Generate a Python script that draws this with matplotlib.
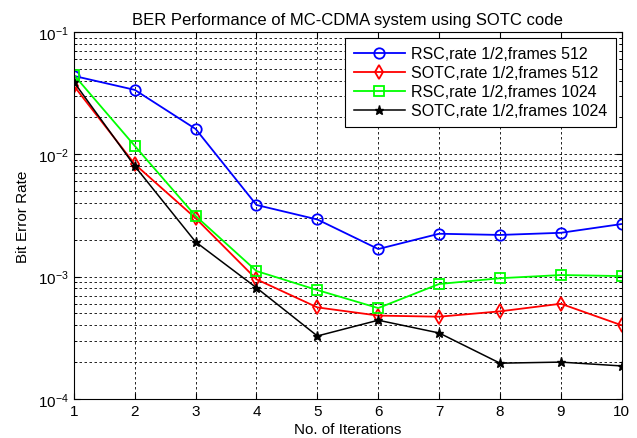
import matplotlib
matplotlib.use("Agg")
import matplotlib.pyplot as plt
from matplotlib.ticker import LogLocator, NullFormatter

plt.rcParams['font.family'] = ['Liberation Sans', 'DejaVu Sans']
plt.rcParams['mathtext.fontset'] = 'custom'
plt.rcParams['mathtext.rm'] = 'Liberation Sans'
plt.rcParams['mathtext.it'] = 'Liberation Sans'

iterations = [1, 2, 3, 4, 5, 6, 7, 8, 9, 10]
rsc_512 = [0.0437, 0.0336, 0.0161, 0.00385, 0.00293, 0.00168, 0.00224, 0.00219, 0.00228, 0.00269]
sotc_512 = [0.0362, 0.0083, 0.0030, 0.00095, 0.00056, 0.00048, 0.00047, 0.00052, 0.00060, 0.00040]
rsc_1024 = [0.0445, 0.0117, 0.00313, 0.00111, 0.000776, 0.000553, 0.00087, 0.00097, 0.00103, 0.00101]
sotc_1024 = [0.0390, 0.0080, 0.00192, 0.00081, 0.000327, 0.00044, 0.000346, 0.000196, 0.00020, 0.000186]
labels = ["RSC,rate 1/2,frames 512", "SOTC,rate 1/2,frames 512",
          "RSC,rate 1/2,frames 1024", "SOTC,rate 1/2,frames 1024"]

fig = plt.figure(figsize=(6.37, 4.39), dpi=100)
ax = fig.add_axes([0.116, 0.089, 0.860, 0.836])

ax.semilogy(iterations, rsc_512, color='#0000ff', marker='o', mfc='none', ms=7.5, mew=1.3, lw=1.3, label=labels[0])
ax.semilogy(iterations, sotc_512, color='#ff0000', marker='d', mfc='none', ms=7.5, mew=1.3, lw=1.3, label=labels[1])
ax.semilogy(iterations, rsc_1024, color='#00ff00', marker='s', mfc='none', ms=7.5, mew=1.3, lw=1.3, label=labels[2])
ax.semilogy(iterations, sotc_1024, color='black', marker='*', ms=6.5, mew=1.0, lw=1.1, label=labels[3])

ax.set_xlim(1, 10)
ax.set_ylim(1e-4, 1e-1)
ax.set_xticks(iterations)
ax.yaxis.set_minor_locator(LogLocator(base=10, subs=range(2, 10)))
ax.yaxis.set_minor_formatter(NullFormatter())

ax.grid(True, which='major', axis='both', color='black', linestyle=(0, (3, 3)), linewidth=0.6)
ax.grid(True, which='minor', axis='y', color='black', linestyle=(0, (3, 3)), linewidth=0.6)
ax.tick_params(which='both', direction='in', top=True, right=True, labelsize=11)
ax.tick_params(which='major', length=4)
ax.tick_params(which='minor', length=2)
for s in ax.spines.values():
    s.set_linewidth(0.8)

ax.set_title("BER Performance of MC-CDMA system using SOTC code", fontsize=12)
ax.set_xlabel("No. of Iterations", fontsize=11, labelpad=3)
ax.set_ylabel("Bit Error Rate", fontsize=11, labelpad=6)

leg = ax.legend(loc='upper right', fontsize=11.5, fancybox=False, framealpha=1,
                edgecolor='black', borderaxespad=0.35, handlelength=3.2,
                labelspacing=0.25, borderpad=0.55, handletextpad=0.4)
leg.get_frame().set_linewidth(0.8)

fig.savefig("out.png", dpi=100)
